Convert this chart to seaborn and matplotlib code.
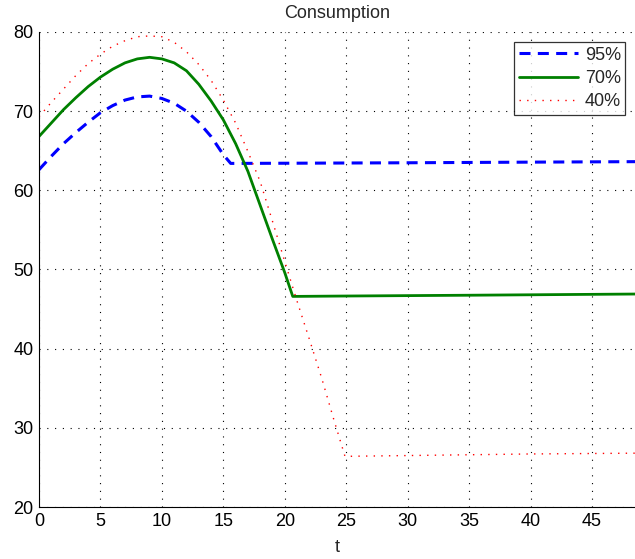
import matplotlib
matplotlib.use("Agg")
import matplotlib.pyplot as plt
import seaborn as sns
from matplotlib.ticker import MultipleLocator

# ---- data ----
t_95 = [0, 1, 2, 3, 4, 5, 6, 7, 8, 9, 10, 11, 12, 13, 14, 15, 15.6, 20, 30, 40, 48.5]
c_95 = [62.6, 64.3, 65.9, 67.3, 68.6, 69.8, 70.7, 71.4, 71.8, 71.9, 71.6, 71.0,
        70.0, 68.6, 66.8, 64.5, 63.4, 63.42, 63.48, 63.56, 63.62]

t_70 = [0, 1, 2, 3, 4, 5, 6, 7, 8, 9, 10, 11, 12, 13, 14, 15, 16, 17, 18, 19, 20,
        20.65, 25, 35, 48.5]
c_70 = [66.8, 68.5, 70.2, 71.7, 73.1, 74.3, 75.3, 76.1, 76.6, 76.8, 76.6, 76.1,
        75.1, 73.4, 71.3, 68.9, 65.9, 62.4, 58.1, 53.8, 49.6, 46.6, 46.65, 46.75, 46.9]

t_40 = [0, 1, 2, 3, 4, 5, 6, 7, 8, 9, 10, 11, 12, 13, 14, 15, 16, 17, 18, 19, 20,
        21, 22, 23, 24, 24.9, 30, 40, 48.5]
c_40 = [69.3, 71.1, 72.8, 74.5, 76.0, 77.2, 78.2, 78.9, 79.4, 79.5, 79.4, 78.7,
        77.5, 75.9, 73.9, 71.4, 68.5, 64.9, 61.1, 56.1, 51.0, 46.0, 41.2, 36.3,
        31.0, 26.4, 26.5, 26.7, 26.8]

labels = ["95%", "70%", "40%"]
title = "Consumption"
xlabel = "t"

# ---- style ----
sns.set_style("white")
plt.rcParams['font.family'] = ['Liberation Sans', 'DejaVu Sans']
FS = 13

fig = plt.figure(figsize=(6.35, 5.59), dpi=100)
ax = fig.add_axes([0.0614, 0.093, 0.9386, 0.8498])

sns.lineplot(x=t_95, y=c_95, ax=ax, color="#0000ff", linewidth=2.2,
             linestyle=(0, (3.6, 2.4)), label=labels[0], sort=False,
             solid_joinstyle="round", dash_joinstyle="round")
sns.lineplot(x=t_70, y=c_70, ax=ax, color="#008000", linewidth=2.0,
             linestyle="-", label=labels[1], sort=False,
             solid_joinstyle="round")
sns.lineplot(x=t_40, y=c_40, ax=ax, color="#ff0000", linewidth=1.0,
             linestyle=(0, (1, 4.5)), label=labels[2], sort=False)

ax.set_xlim(0, 48.5)
ax.set_ylim(20, 80)
ax.xaxis.set_major_locator(MultipleLocator(5))
ax.yaxis.set_major_locator(MultipleLocator(10))
ax.xaxis.set_minor_locator(MultipleLocator(1))
ax.yaxis.set_minor_locator(MultipleLocator(1))
ax.tick_params(which="both", direction="in", top=False, right=False,
               colors="black", labelsize=FS)
ax.tick_params(which="major", length=4, width=0.8, pad=4)
ax.tick_params(which="minor", length=2, width=0.6)

for s in ["top", "right"]:
    ax.spines[s].set_visible(False)
for s in ["left", "bottom"]:
    ax.spines[s].set_color("black")
    ax.spines[s].set_linewidth(0.8)

ax.grid(True, which="major", color="black", linewidth=0.8, linestyle=(0, (1, 6)))

ax.set_title(title, fontsize=FS, pad=10)
ax.set_xlabel(xlabel, fontsize=FS, labelpad=7)

leg = ax.legend(loc="upper right", bbox_to_anchor=(0.993, 0.99), frameon=True,
                fancybox=False, edgecolor="black", fontsize=FS,
                handlelength=3.3, handletextpad=0.35, borderpad=0.25,
                labelspacing=0.35, borderaxespad=0.3)
leg.get_frame().set_linewidth(0.9)

fig.savefig("out.png", dpi=100, facecolor="white")
